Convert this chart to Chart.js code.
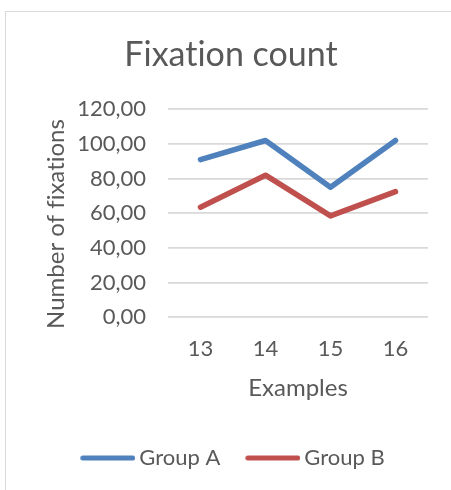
<!DOCTYPE html>
<html>
<head>
<meta charset="utf-8">
<script src="https://cdn.jsdelivr.net/npm/chart.js@4/dist/chart.umd.min.js"></script>
<style>
  html, body { margin: 0; padding: 0; background: #fff; overflow: hidden; }
  #wrap { position: relative; width: 451px; height: 490px; }
  #frame { position: absolute; left: 5px; top: 11px; width: 460px; height: 490px;
           border-left: 1px solid #d9d9d9; border-top: 1px solid #d9d9d9; }
  canvas { position: absolute; left: 0; top: 0; }
</style>
</head>
<body>
<div id="wrap">
  <div id="frame"></div>
  <canvas id="c" width="451" height="490"></canvas>
</div>
<script>
const categories = ['13', '14', '15', '16'];
const groupA = [91, 102, 75, 102];
const groupB = [63.5, 82, 58.5, 72.5];
const yTicks = [0, 20, 40, 60, 80, 100, 120];

const TEXT = '#595959';
const FONT = 'Lato';
const KEY_BOX = 51;

// Legend key: a short round-capped line that sits close to its label
function keyLine(color) {
  const c = document.createElement('canvas');
  c.width = KEY_BOX + 14;
  c.height = 8;
  const g = c.getContext('2d');
  g.strokeStyle = color;
  g.lineWidth = 5;
  g.lineCap = 'round';
  g.beginPath();
  g.moveTo(12.5, 4);
  g.lineTo(62.5, 4);
  g.stroke();
  return c;
}

// Plain glyphs (no "ti"/"fi" ligatures) for every text drawn on the canvas
const plainText = {
  id: 'plainText',
  beforeDraw(chart) {
    chart.ctx.textRendering = 'optimizeSpeed';
  }
};

// Rotated y-axis caption, placed beside the value labels
const yCaption = {
  id: 'yCaption',
  afterDraw(chart) {
    const ctx = chart.ctx;
    ctx.save();
    ctx.textRendering = 'optimizeSpeed';
    ctx.fillStyle = TEXT;
    ctx.font = '24px ' + FONT;
    ctx.textAlign = 'center';
    ctx.textBaseline = 'middle';
    ctx.translate(56, 224);
    ctx.rotate(-Math.PI / 2);
    ctx.fillText('Number of fixations', 0, 0);
    ctx.restore();
  }
};

new Chart(document.getElementById('c'), {
  type: 'line',
  data: {
    labels: categories,
    datasets: [
      { label: 'Group A', data: groupA, borderColor: '#4f81bd', backgroundColor: '#4f81bd' },
      { label: 'Group B', data: groupB, borderColor: '#c0504d', backgroundColor: '#c0504d' }
    ]
  },
  options: {
    responsive: false,
    animation: false,
    devicePixelRatio: 1,
    layout: { padding: { left: 34, right: 23, top: 11, bottom: 11 } },
    elements: {
      line: { borderWidth: 5.5, tension: 0, borderCapStyle: 'round', borderJoinStyle: 'round' },
      point: { radius: 0, hoverRadius: 0 }
    },
    plugins: {
      title: {
        display: true,
        text: 'Fixation count',
        color: TEXT,
        font: { family: FONT, size: 34, weight: 'normal' },
        padding: { top: 23.6, bottom: 33.9 }
      },
      legend: {
        position: 'bottom',
        labels: {
          color: TEXT,
          font: { family: FONT, size: 22 },
          usePointStyle: true,
          pointStyleWidth: KEY_BOX,
          padding: 22,
          generateLabels(chart) {
            return chart.data.datasets.map((ds, i) => ({
              text: ds.label,
              fillStyle: ds.borderColor,
              strokeStyle: ds.borderColor,
              lineWidth: 0,
              pointStyle: keyLine(ds.borderColor),
              fontColor: TEXT,
              hidden: false,
              datasetIndex: i
            }));
          }
        }
      },
      tooltip: { enabled: false }
    },
    scales: {
      x: {
        offset: true,
        grid: { display: false, drawTicks: false },
        border: { display: false },
        ticks: { color: TEXT, font: { family: FONT, size: 22 }, padding: 18 },
        title: {
          display: true,
          text: 'Examples',
          color: TEXT,
          font: { family: FONT, size: 24 },
          padding: { top: 10, bottom: 22.6 }
        },
        afterFit(s) { s.height = 107.7; }
      },
      y: {
        min: 0,
        max: 120,
        afterBuildTicks(s) { s.ticks = yTicks.map(v => ({ value: v })); },
        grid: { color: '#d9d9d9', lineWidth: 1.8, drawTicks: false },
        border: { display: false },
        ticks: {
          color: TEXT,
          font: { family: FONT, size: 22 },
          padding: 22,
          callback: v => v.toFixed(2).replace('.', ',')
        },
        afterFit(s) { s.width = 134; }
      }
    }
  },
  plugins: [plainText, yCaption]
});
</script>
</body>
</html>
